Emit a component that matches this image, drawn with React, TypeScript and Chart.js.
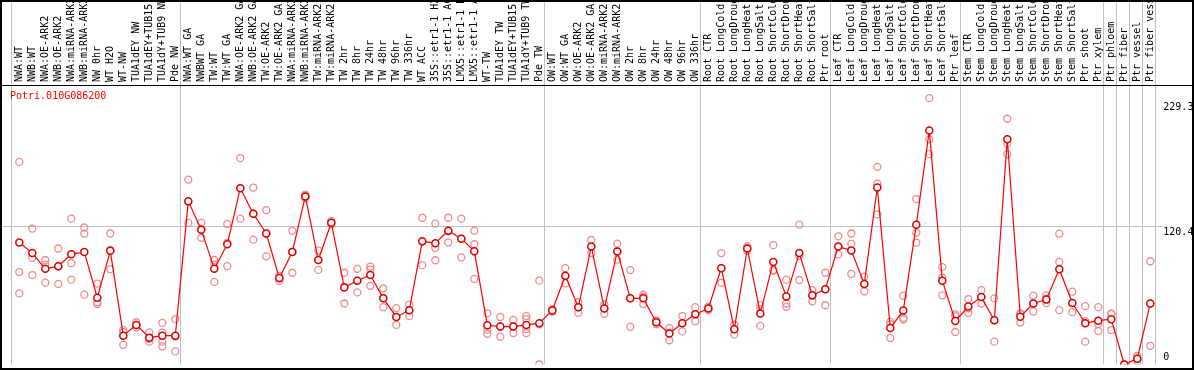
import React, { useEffect, useRef } from 'react';
import { Chart, registerables } from 'chart.js';

Chart.register(...registerables);

const geneId = 'Potri.010G086200';

const categories = [
  'NWA:WT', 'NWB:WT', 'NWA:OE-ARK2', 'NWB:OE-ARK2', 'NWA:miRNA-ARK2', 'NWB:miRNA-ARK2', 'NW 0hr', 'WT H2O', 'WT-NW',
  'TUA1dEY NW', 'TUA1dEY+TUB15 NW', 'TUA1dY+TUB9 NW', 'Pde NW',
  'NWA:WT GA', 'NWBWT GA', 'TW:WT', 'TW:WT GA', 'NWA:OE-ARK2 GA', 'NWB:OE-ARK2 GA', 'TW:OE-ARK2', 'TW:OE-ARK2 GA',
  'NWA:miRNA-ARK2 GA', 'NWB:miRNA-ARK2 GA', 'TW:miRNA-ARK2', 'TW:miRNA-ARK2 GA', 'TW 2hr', 'TW 8hr', 'TW 24hr', 'TW 48hr',
  'TW 96hr', 'TW 336hr', 'WT ACC', '35S::etr1-1 H2O', '35S::etr1-1 ACC', 'LMX5::etr1-1 H2O', 'LMX5::etr1-1 ACC', 'WT-TW',
  'TUA1dEY TW', 'TUA1dEY+TUB15 TW', 'TUA1dY+TUB9 TW', 'Pde TW',
  'OW:WT', 'OW:WT GA', 'OW:OE-ARK2', 'OW:OE-ARK2 GA', 'OW:miRNA-ARK2', 'OW:miRNA-ARK2 GA', 'OW 2hr', 'OW 8hr', 'OW 24hr',
  'OW 48hr', 'OW 96hr', 'OW 336hr',
  'Root CTR', 'Root LongCold', 'Root LongDrought', 'Root LongHeat', 'Root LongSalt', 'Root ShortCold', 'Root ShortDrought',
  'Root ShortHeat', 'Root ShortSalt', 'Ptr root',
  'Leaf CTR', 'Leaf LongCold', 'Leaf LongDrought', 'Leaf LongHeat', 'Leaf LongSalt', 'Leaf ShortCold', 'Leaf ShortDrought',
  'Leaf ShortHeat', 'Leaf ShortSalt', 'Ptr leaf',
  'Stem CTR', 'Stem LongCold', 'Stem LongDrought', 'Stem LongHeat', 'Stem LongSalt', 'Stem ShortCold', 'Stem ShortDrought',
  'Stem ShortHeat', 'Stem ShortSalt', 'Ptr shoot', 'Ptr xylem',
  'Ptr phloem', 'Ptr fiber', 'Ptr vessel', 'Ptr fiber vessel',
];

// indices where a new sample group begins (vertical separators)
const groupStarts = [0, 13, 41, 53, 63, 73, 84, 85, 86, 87];

const meanValues = [
  106.2, 97, 83.3, 85.6, 96.1, 97.9, 58.2, 99, 25.1, 34.5, 23.4, 25.1, 25.1,
  142.1, 117.3, 83.3, 104.7, 153.5, 131.3, 114.1, 75.3, 97.9, 146.4, 91, 123.5, 67, 73, 77.9, 57.6, 41.4, 47.3,
  107.3, 105.6, 116.4, 109.6, 98.7, 34.2, 33, 33, 34.5, 36,
  47.1, 77.3, 49.9, 102.7, 48.8, 98.5, 57.6, 57.6, 36.8, 27.1, 36, 43.7,
  48.8, 83.9, 30.8, 101, 44.5, 89.3, 59.3, 97, 60.2, 65.6,
  102.7, 99.3, 70.2, 154.1, 31.7, 47.1, 121.8, 203.8, 73, 37.9,
  50.5, 58.7, 38.5, 196.1, 41.6, 53.1, 56.5, 83, 53.6, 36,
  38.2, 39.4, 0, 5.1, 53.1,
];

const repA = [
  176.4, 118.4, 91, 101, 127, 119.3, 70.5, 114.1, 30, 36.8, 27.9, 36.2, 39.6,
  161, 123.3, 91, 122.4, 179.8, 154.1, 134.4, 77.1, 116.4, 148, 99.3, 125, 79.9, 83.3, 85.3, 66.2, 49.1, 52.2,
  127.8, 122.7, 127.8, 127, 116.4, 44.5, 41.4, 38.8, 42.2, 73,
  48.3, 83.9, 54.2, 108.4, 52.2, 105.3, 82.2, 60.8, 38.5, 31.7, 42.2, 49.9,
  50.3, 97, 34.8, 103, 51.9, 103.9, 73.9, 121.8, 64.7, 79.9,
  111.6, 114.1, 76.5, 172.1, 37.1, 59.9, 144.1, 232, 84.8, 43.7,
  57, 64.7, 57.6, 214, 43.9, 59.9, 60.2, 113.9, 63.4, 50.8,
  49.9, 44.2, 0, 7.4, 89.9,
];

const repB = [
  80.5, 93, 87, 85.6, 88.2, 113.9, 54.2, 99.8, 28.2, 34.5, 22.4, 27.7, 24.3,
  142, 118, 87, 106, 153.6, 131.3, 114, 74.8, 98, 146.4, 91, 123.5, 67.9, 73, 82.7, 58, 41.4, 47.3,
  107, 101.5, 116, 109.6, 104.7, 30.3, 33, 33, 39.6, 35,
  47.1, 77.3, 49.9, 102.7, 48.8, 98.5, 57.6, 59.1, 36.8, 27.7, 36, 43.7,
  48.8, 83.9, 30.8, 101, 48, 82.4, 53.1, 94.7, 60.2, 65.6,
  102.7, 105, 70.2, 157.5, 34.9, 40.8, 114.7, 196.1, 75.6, 42.2,
  49, 58.7, 38.5, 192.3, 44.5, 53.1, 57.5, 89.3, 53.6, 37.7,
  35.3, 44, 0, 5.1, 53.1,
];

const repC = [
  61.9, 77.9, 71.3, 70.2, 73.9, 60.8, 52.7, 83, 17.1, 32.2, 19.9, 19.9, 11.4,
  123.3, 110.4, 71.9, 85.6, 127, 108.7, 94.2, 72.8, 79.9, 144.8, 82.4, 122, 53.1, 62.8, 68.5, 49.9, 34.5, 42.2,
  86.5, 90.8, 106.4, 93.3, 74.5, 26.8, 24.2, 27.4, 30.8, 0,
  45.9, 70.7, 45, 97, 44.2, 91.3, 32.8, 52.7, 35.1, 21.1, 28.8, 37.7,
  47.3, 71.1, 26.2, 99, 33.6, 81.6, 50.2, 73.6, 55.1, 51.6,
  95.9, 79, 63.6, 130.7, 23.1, 39.4, 106.2, 183.2, 60.2, 28.3,
  45, 53.1, 19.9, 183.2, 36.5, 46.2, 53.6, 47.3, 45.6, 19.9,
  29.1, 30, 0, 2.8, 16.3,
];

// fourth replicate, only where a sample has one
const repD: (number | null)[] = categories.map(() => null);
repD[11] = 15.7;
repD[39] = 27.4;

const yMin = 0;
const yMax = 243.4;
const yTickValues = [0, 120.4, 229.3];

const FONT_FAMILY = '"DejaVu Sans Mono", monospace';

export default function App() {
  const canvasRef = useRef<HTMLCanvasElement>(null);

  useEffect(() => {
    document.body.style.margin = '0';
    const canvas = canvasRef.current;
    if (!canvas) return;

    const replicatePoints: { x: string; y: number }[] = [];
    [repA, repB, repC, repD].forEach((arr) => {
      arr.forEach((v, i) => {
        if (v !== null && v !== undefined) replicatePoints.push({ x: categories[i], y: v as number });
      });
    });

    const framePlugin = {
      id: 'framePlugin',
      beforeDraw(chart: any) {
        const { ctx, chartArea, scales } = chart;
        const xs = scales.x;
        const ys = scales.y;
        ctx.save();
        ctx.fillStyle = '#ffffff';
        ctx.fillRect(0, 0, chart.width, chart.height);
        ctx.strokeStyle = '#c0c0c0';
        ctx.lineWidth = 1;
        const half = (xs.getPixelForValue(1) - xs.getPixelForValue(0)) / 2;
        const lines = groupStarts.map((i) => xs.getPixelForValue(i) - half - 1.5);
        lines.push(xs.getPixelForValue(categories.length - 1) + half - 1.5);
        lines.forEach((x) => {
          const px = Math.round(x) + 0.5;
          ctx.beginPath();
          ctx.moveTo(px, 0);
          ctx.lineTo(px, chartArea.bottom);
          ctx.stroke();
        });
        yTickValues.slice(1, -1).forEach((v) => {
          const py = Math.round(ys.getPixelForValue(v)) + 0.5;
          ctx.beginPath();
          ctx.moveTo(0, py);
          ctx.lineTo(chartArea.right + 6, py);
          ctx.stroke();
        });
        ctx.restore();
      },
      afterDraw(chart: any) {
        const { ctx, chartArea, scales } = chart;
        const ys = scales.y;
        ctx.save();
        ctx.font = '10px ' + FONT_FAMILY;
        ctx.fillStyle = '#ff0000';
        ctx.textAlign = 'left';
        ctx.textBaseline = 'top';
        ctx.fillText(geneId, 10, 91);
        ctx.fillStyle = '#000000';
        ctx.textBaseline = 'alphabetic';
        yTickValues.forEach((v) => {
          const py = ys.getPixelForValue(v);
          const y = v === yMin ? py - 4.3 : py + 8.4;
          ctx.fillText(String(v), chartArea.right + 6.5, y);
        });
        ctx.strokeStyle = '#000000';
        ctx.lineWidth = 2;
        ctx.strokeRect(1, 1, chart.width - 2, chart.height - 2);
        ctx.lineWidth = 1;
        ctx.beginPath();
        ctx.moveTo(0, Math.round(chartArea.top) + 0.5);
        ctx.lineTo(chart.width, Math.round(chartArea.top) + 0.5);
        ctx.stroke();
        ctx.restore();
      },
    };

    const chart = new Chart(canvas, {
      type: 'line',
      data: {
        labels: categories,
        datasets: [
          {
            label: 'mean',
            data: meanValues,
            borderColor: '#ff0000',
            borderWidth: 1.2,
            pointRadius: 3.5,
            pointBorderWidth: 1.5,
            pointBorderColor: '#e00000',
            pointBackgroundColor: '#ffffff',
            tension: 0,
            order: 0,
          },
          {
            label: 'replicates',
            data: replicatePoints as any,
            showLine: false,
            pointRadius: 3.5,
            pointBorderWidth: 1.3,
            pointBorderColor: 'rgb(238,140,140)',
            pointBackgroundColor: 'rgba(0,0,0,0)',
            order: 1,
          },
        ],
      },
      options: {
        responsive: false,
        animation: false,
        devicePixelRatio: 1,
        layout: { padding: { left: 12.8, right: 0, top: 0, bottom: 0.7 } },
        plugins: {
          legend: { display: false },
          tooltip: { enabled: false },
          title: { display: false },
        },
        scales: {
          x: {
            type: 'category',
            position: 'top',
            offset: true,
            grid: { display: false, drawTicks: false },
            border: { display: false },
            ticks: {
              autoSkip: false,
              minRotation: 90,
              maxRotation: 90,
              padding: 3,
              labelOffset: 12,
              color: '#000000',
              font: { family: FONT_FAMILY, size: 10 },
            },
            afterFit: (s: any) => {
              s.height = 85;
            },
          },
          y: {
            position: 'right',
            min: yMin,
            max: yMax,
            grid: { display: false },
            border: { display: false },
            ticks: { display: false },
            afterBuildTicks: (s: any) => {
              s.ticks = yTickValues.map((v) => ({ value: v }));
            },
            afterFit: (s: any) => {
              s.width = 37.2;
            },
          },
        },
      },
      plugins: [framePlugin],
    });

    return () => chart.destroy();
  }, []);

  return <canvas ref={canvasRef} width={1194} height={370} style={{ display: 'block' }} />;
}
